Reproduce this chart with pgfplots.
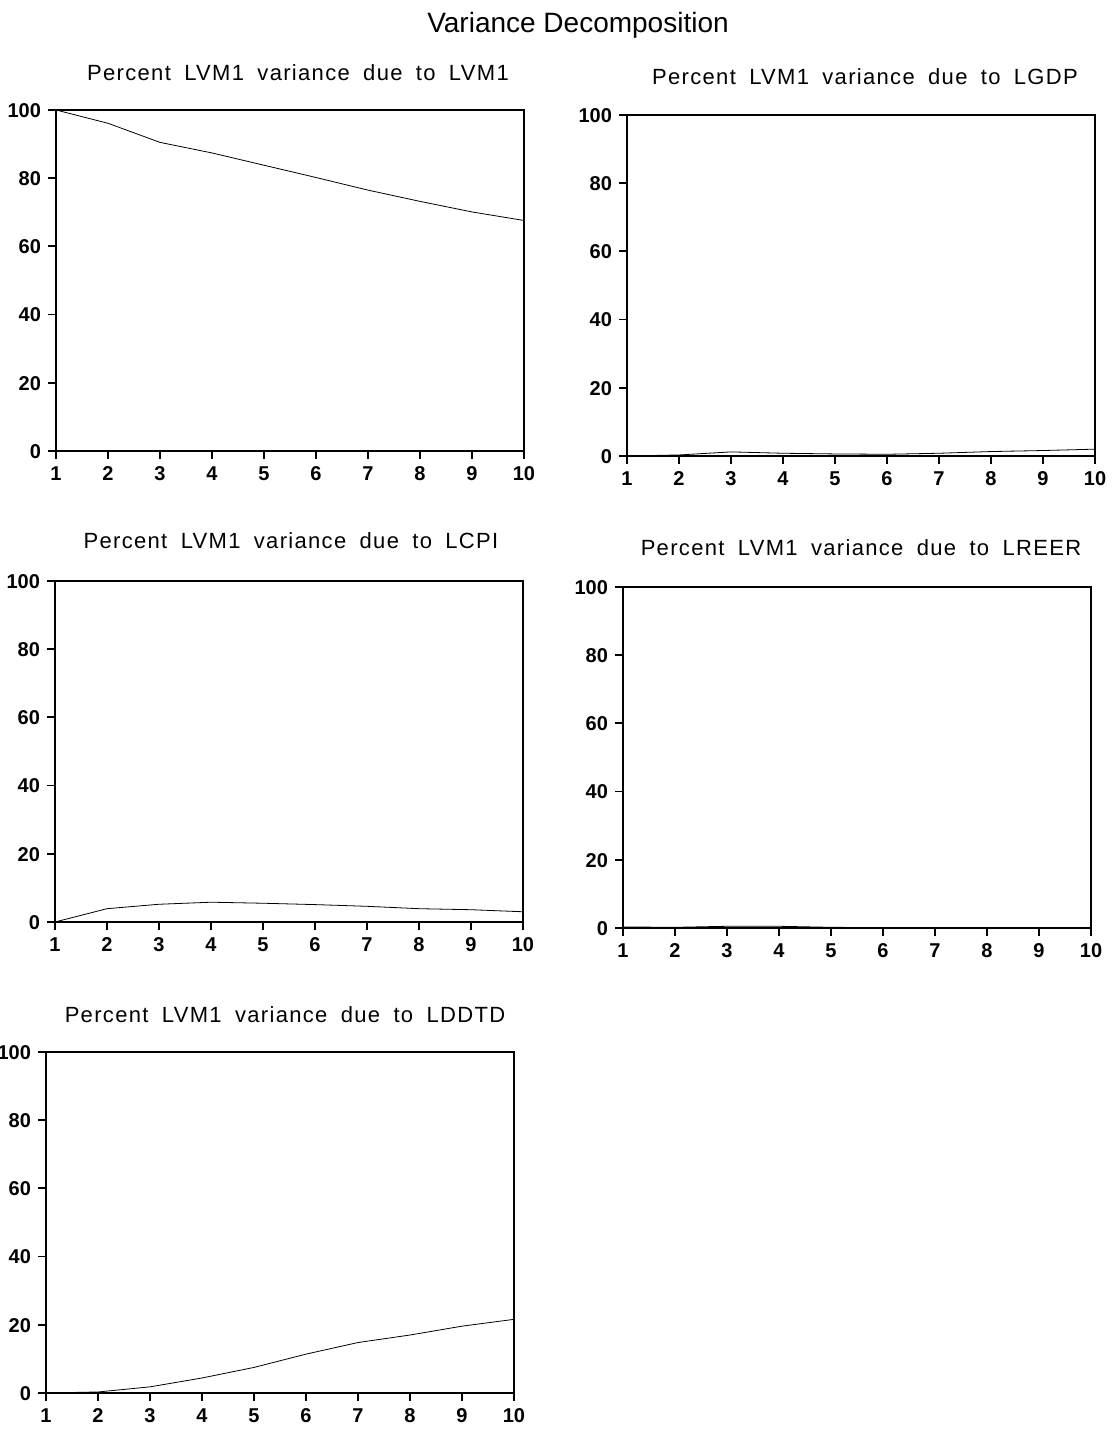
\documentclass[border=0pt]{standalone}
\usepackage{fontspec}
\setmainfont{Liberation Sans}
\newfontfamily\titlefont[LetterSpace=6,WordSpace=1.8]{Liberation Sans}
\usepackage{pgfplots}
\pgfplotsset{compat=1.18}
\pgfplotsset{vd/.style={scale only axis, width=234pt, height=170.5pt,
  xmin=1, xmax=10, ymin=0, ymax=100,
  xtick={1,...,10}, ytick={0,20,...,100},
  tick align=outside, xtick pos=left, ytick pos=left,
  major tick length=4pt,
  axis line style={line width=0.9pt},
  every tick/.style={line width=0.9pt, black},
  ticklabel style={font=\fontsize{10}{12}\selectfont\bfseries},
  xticklabel style={text height=7.3pt, text depth=0pt},
  yticklabel style={text height=7.3pt, text depth=0pt},
  /pgf/number format/assume math mode=true,
  anchor=south west,
  cycle list={{black, line width=1.1pt, mark=none}}}}
\begin{document}
\begin{tikzpicture}
\useasboundingbox (0,0) rectangle (556pt,714.5pt);
\node at (289pt,702pt) {\fontsize{14}{16}\selectfont Variance Decomposition};
\node at (149pt,678pt) {\titlefont\fontsize{11}{13}\selectfont Percent LVM1 variance due to LVM1};
\node at (432.5pt,676pt) {\titlefont\fontsize{11}{13}\selectfont Percent LVM1 variance due to LGDP};
\node at (145.5pt,444pt) {\titlefont\fontsize{11}{13}\selectfont Percent LVM1 variance due to LCPI};
\node at (430.5pt,440.5pt) {\titlefont\fontsize{11}{13}\selectfont Percent LVM1 variance due to LREER};
\node at (142.5pt,207pt) {\titlefont\fontsize{11}{13}\selectfont Percent LVM1 variance due to LDDTD};

\begin{axis}[vd, at={(28pt,489pt)}]
\addplot coordinates {(1,100) (2,96.1) (3,90.5) (4,87.4) (5,83.8) (6,80.2) (7,76.5) (8,73.2) (9,70.1) (10,67.6)};
\end{axis}

\begin{axis}[vd, at={(313.5pt,486.5pt)}]
\addplot coordinates {(1,0) (2,0.3) (3,1.2) (4,0.8) (5,0.6) (6,0.5) (7,0.8) (8,1.3) (9,1.6) (10,2.0)};
\end{axis}

\begin{axis}[vd, at={(27.5pt,253.5pt)}]
\addplot coordinates {(1,0) (2,3.9) (3,5.2) (4,5.8) (5,5.5) (6,5.1) (7,4.6) (8,3.9) (9,3.6) (10,3.0)};
\end{axis}

\begin{axis}[vd, at={(311.5pt,250.5pt)}]
\addplot coordinates {(1,0.3) (2,0.2) (3,0.5) (4,0.5) (5,0.2) (6,0.1) (7,0.1) (8,0.1) (9,0.05) (10,0.05)};
\end{axis}

\begin{axis}[vd, at={(23pt,18pt)}]
\addplot coordinates {(1,0) (2,0.3) (3,1.8) (4,4.4) (5,7.5) (6,11.4) (7,14.8) (8,17.0) (9,19.6) (10,21.6)};
\end{axis}
\end{tikzpicture}
\end{document}
